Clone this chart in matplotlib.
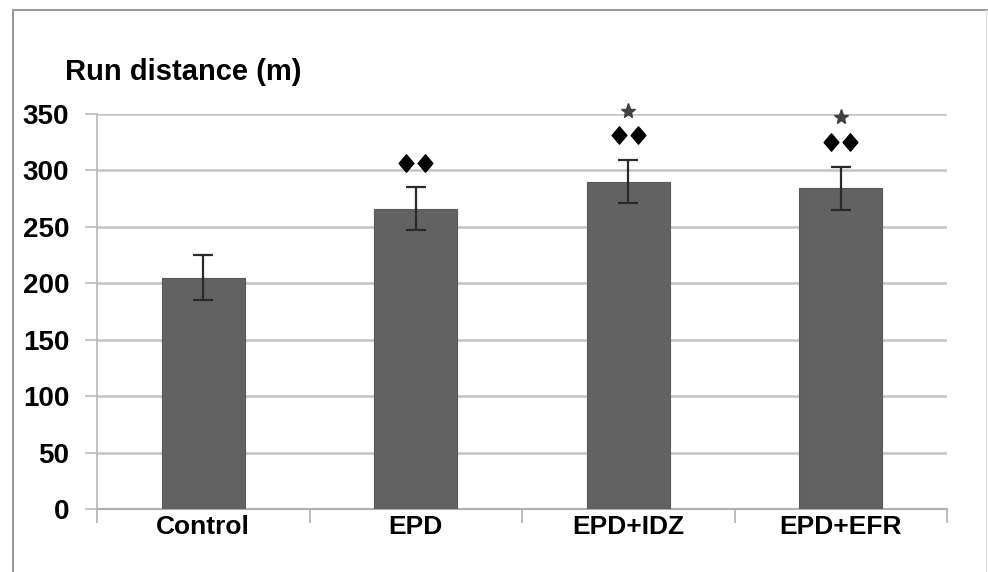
import matplotlib
matplotlib.use("Agg")
import matplotlib.pyplot as plt
from matplotlib.lines import Line2D
from matplotlib.path import Path
from matplotlib.transforms import offset_copy
import numpy as np

categories = ["Control", "EPD", "EPD+IDZ", "EPD+EFR"]
means = [205, 266, 290, 284]
errors = [20, 19, 19, 19]
diamond_flags = [False, True, True, True]
diamond_y = [0, 307, 331, 325]
star_flags = [False, False, True, True]
star_y = [0, 0, 353, 347]
yticks = [0, 50, 100, 150, 200, 250, 300, 350]

plt.rcParams['font.family'] = ['Liberation Sans', 'DejaVu Sans']

fig = plt.figure(figsize=(9.88, 5.72), dpi=100)
# outer frame
fig.add_artist(Line2D([13/988, 13/988], [0, 1 - 10/572], transform=fig.transFigure, color='#9a9a9a', lw=1.5))
fig.add_artist(Line2D([13/988, 987/988], [1 - 10/572, 1 - 10/572], transform=fig.transFigure, color='#9a9a9a', lw=1.5))
fig.add_artist(Line2D([986/988, 986/988], [0, 1 - 10/572], transform=fig.transFigure, color='#e0e0e0', lw=1))

ax = fig.add_axes([97/988, 63/572, 850/988, 395/572])
x = np.arange(len(categories))
ax.bar(x, means, width=0.39, color='#626262', edgecolor='#585858', linewidth=0.8, zorder=3)
ax.errorbar(x, means, yerr=errors, fmt='none', ecolor='#2a2a2a', elinewidth=1.6, capsize=7, capthick=1.6, zorder=4)

diamond = Path([(0, 1), (0.85, 0), (0, -1), (-0.85, 0), (0, 1)],
               [Path.MOVETO, Path.LINETO, Path.LINETO, Path.LINETO, Path.CLOSEPOLY])
for xi, flag, yy in zip(x, diamond_flags, diamond_y):
    if flag:
        for dx in (-7.0, 7.0):
            tr = offset_copy(ax.transData, fig=fig, x=dx, y=0, units='points')
            ax.plot([xi], [yy], marker=diamond, markersize=12.5, color='black',
                    linestyle='none', transform=tr, clip_on=False, zorder=5)
for xi, flag, yy in zip(x, star_flags, star_y):
    if flag:
        ax.plot([xi], [yy], marker='*', markersize=11, color='#404040', clip_on=False, zorder=5)

ax.set_xlim(-0.5, len(categories) - 0.5)
ax.set_ylim(0, 350)
ax.set_yticks(yticks)
ax.set_yticklabels([str(v) for v in yticks], fontsize=20, fontweight='bold')
ax.set_xticks(x)
ax.set_xticklabels(categories, fontsize=19, fontweight='bold')
ax.set_xticks(np.arange(-0.5, len(categories), 1.0), minor=True)
ax.tick_params(axis='x', which='major', length=0, pad=4)
ax.tick_params(axis='x', which='minor', length=10, width=1.2, color='#b0b0b0', direction='out')
ax.tick_params(axis='y', which='major', length=9, width=1.5, color='#c4c4c4', direction='out', pad=11)
ax.grid(axis='y', color='#c4c4c4', lw=1.8, zorder=0)
ax.set_axisbelow(True)
for s in ['top', 'right']:
    ax.spines[s].set_visible(False)
ax.spines['left'].set_color('#b8b8b8')
ax.spines['left'].set_linewidth(1.2)
ax.spines['bottom'].set_color('#b0b0b0')
ax.spines['bottom'].set_linewidth(1.5)

fig.text(65/988, 1 - 72/572, "Run distance (m)", fontsize=21, fontweight='bold', ha='left', va='center')

fig.savefig("out.png", dpi=100)
